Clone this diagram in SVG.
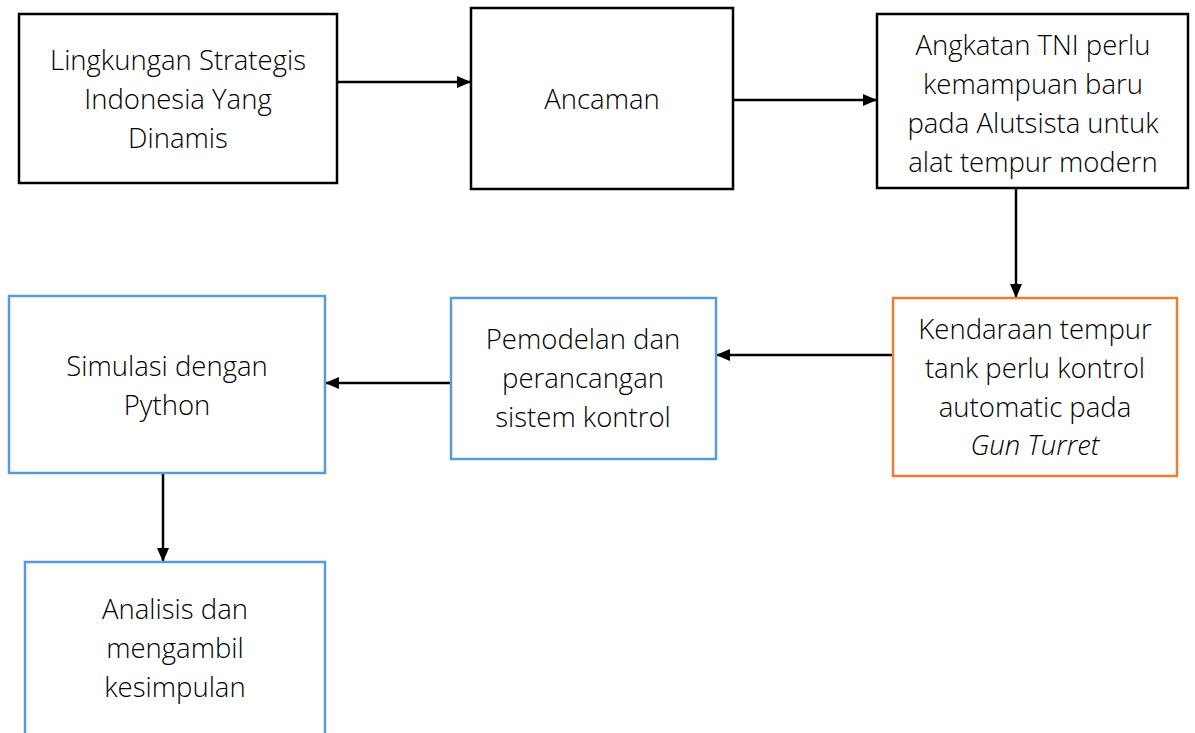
<svg xmlns="http://www.w3.org/2000/svg" width="1195" height="733" viewBox="0 0 1195 733">
<style>
.bk{fill:#fff;stroke:#000;stroke-width:2.5}
.or{fill:#fff;stroke:#ED7D31;stroke-width:2.5}
.bl{fill:#fff;stroke:#5B9BD5;stroke-width:2.5}
text{font-family:"Open Sans","Noto Sans",sans-serif;font-weight:300;font-size:27.5px;fill:#000;text-anchor:middle}
.c{stroke:#000;stroke-width:2.5;fill:none}
</style>
<defs>
<marker id="ah" viewBox="0 0 14 12" refX="14" refY="6" markerWidth="14" markerHeight="12" markerUnits="userSpaceOnUse" orient="auto">
<path d="M0,0 L14,6 L0,12 Z" fill="#000"/>
</marker>
</defs>
<rect width="1195" height="733" fill="#fff"/>
<g id="connectors">
<line class="c" x1="338" y1="82" x2="471" y2="82" marker-end="url(#ah)"/>
<line class="c" x1="734" y1="100" x2="877" y2="100" marker-end="url(#ah)"/>
<line class="c" x1="1016" y1="189" x2="1016" y2="298" marker-end="url(#ah)"/>
<line class="c" x1="892" y1="355" x2="716" y2="355" marker-end="url(#ah)"/>
<line class="c" x1="450" y1="383" x2="325" y2="383" marker-end="url(#ah)"/>
<line class="c" x1="163" y1="474" x2="163" y2="562" marker-end="url(#ah)"/>
</g>
<g id="n1"><rect class="bk" x="19" y="14" width="318" height="169"/>
<text x="178" y="70">Lingkungan Strategis</text><text x="178" y="109">Indonesia Yang</text><text x="178" y="148">Dinamis</text></g>
<g id="n2"><rect class="bk" x="471" y="8" width="262" height="181"/>
<text x="602" y="109">Ancaman</text></g>
<g id="n3"><rect class="bk" x="877" y="14" width="311" height="174"/>
<text x="1033" y="55">Angkatan TNI perlu</text><text x="1033" y="94">kemampuan baru</text><text x="1033" y="133">pada Alutsista untuk</text><text x="1033" y="172">alat tempur modern</text></g>
<g id="n4"><rect class="or" x="893" y="298" width="284" height="178"/>
<text x="1035" y="339">Kendaraan tempur</text><text x="1035" y="378">tank perlu kontrol</text><text x="1035" y="417">automatic pada</text><text x="1035" y="455" font-style="italic">Gun Turret</text></g>
<g id="n5"><rect class="bl" x="451" y="298" width="265" height="161"/>
<text x="583" y="349">Pemodelan dan</text><text x="583" y="388">perancangan</text><text x="583" y="427">sistem kontrol</text></g>
<g id="n6"><rect class="bl" x="9" y="296" width="316" height="177"/>
<text x="167" y="376">Simulasi dengan</text><text x="167" y="415">Python</text></g>
<g id="n7"><rect class="bl" x="25" y="562" width="300" height="190"/>
<text x="175" y="619">Analisis dan</text><text x="175" y="658">mengambil</text><text x="175" y="697">kesimpulan</text></g>
</svg>
